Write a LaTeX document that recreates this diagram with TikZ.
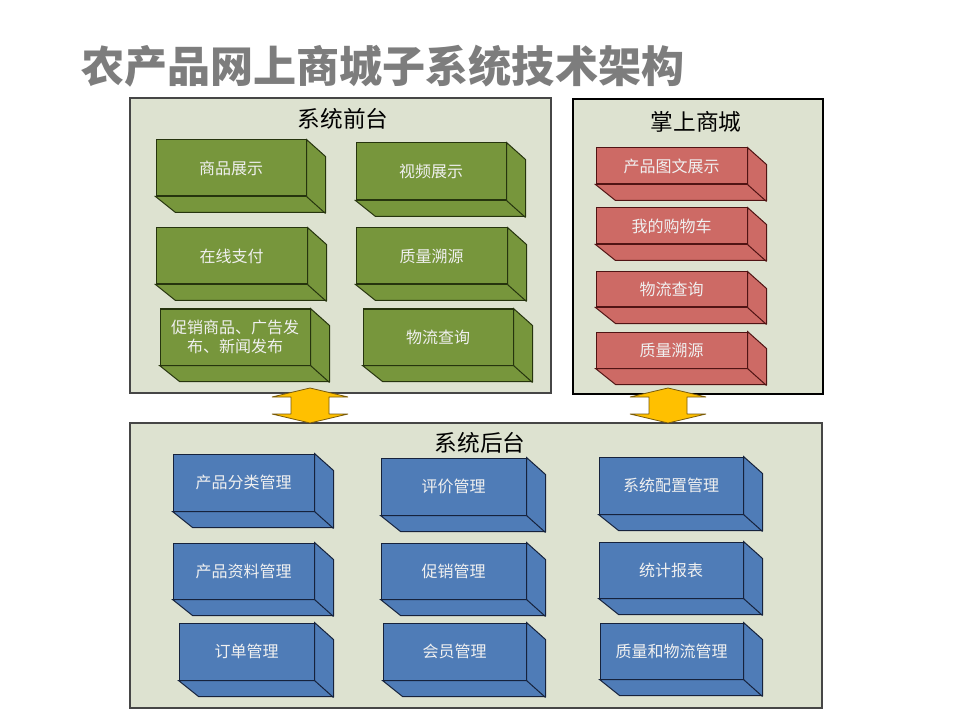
\documentclass[tikz,border=0pt]{standalone}
\usepackage{fontspec}
\usetikzlibrary{calc}
\newfontfamily\cjk{Noto Sans CJK SC}
\definecolor{gfill}{RGB}{119,150,60}
\definecolor{gline}{RGB}{38,52,14}
\definecolor{rfill}{RGB}{205,106,101}
\definecolor{rline}{RGB}{80,20,20}
\definecolor{bfill}{RGB}{79,124,183}
\definecolor{bline}{RGB}{22,34,60}
\definecolor{panelfill}{RGB}{221,226,208}
\definecolor{panelline}{RGB}{70,70,70}
\definecolor{titlegray}{RGB}{125,125,125}
\definecolor{arrowfill}{RGB}{255,192,0}
\definecolor{arrowline}{RGB}{120,90,10}
\tikzset{
  cubeface/.style={draw=#1line, fill=#1fill, line width=0.75pt, inner sep=0pt,
    align=center, text=white!94!black, font=\cjk\fontsize{12pt}{14.5pt}\selectfont},
  cubeside/.style={draw=#1line, fill=#1fill, line width=0.75pt, line join=miter},
  panel/.style={draw=panelline, fill=panelfill, line width=0.8pt},
  paneltitle/.style={font=\cjk\fontsize{17pt}{20pt}\selectfont, text=black, inner sep=0pt},
  bigtitle/.style={font=\cjk\bfseries\fontsize{32.3pt}{36pt}\selectfont, text=titlegray, inner sep=0pt},
  updown/.style={fill=arrowfill, draw=arrowline, line width=0.6pt, line join=bevel},
}
\newcommand\cubebox[7]{%
  \pgfmathsetmacro\cubew{(#4-#2)*0.75}%
  \pgfmathsetmacro\cubeh{(#5-#3)*0.75}%
  \node[cubeface=#6, minimum width=\cubew pt, minimum height=\cubeh pt] (#1) at ({(#2+#4)/2},{(#3+#5)/2}) {#7};
  \filldraw[cubeside=#6] (#1.north east) -- ++(19,17) -- ++(0,{#5-#3}) -- ++({-(#4-#2)},0) -- (#1.south west) -- (#1.south east) -- cycle;
  \draw[cubeside=#6] (#1.south east) -- ++(19,17);
}
\newcommand\yellowupdown[1]{%
  \filldraw[updown] ($(#1)+(0,-17.5)$) -- ($(#1)+(38,-8.5)$) -- ($(#1)+(19,-8.5)$)
    -- ($(#1)+(19,8.5)$) -- ($(#1)+(38,8.5)$) -- ($(#1)+(0,17.5)$)
    -- ($(#1)+(-38,8.5)$) -- ($(#1)+(-19,8.5)$) -- ($(#1)+(-19,-8.5)$)
    -- ($(#1)+(-38,-8.5)$) -- cycle;
}
\begin{document}
\begin{tikzpicture}[x=0.75pt, y=-0.75pt]
\fill[white] (0,0) rectangle (960,720);
\useasboundingbox (0,0) rectangle (960,720);

\node[bigtitle, anchor=west] (title) at (81,66) {农产品网上商城子系统技术架构};

% panels
\draw[panel] (130,98) rectangle (551,393);
\draw[panel, draw=black] (573,99) rectangle (823,394);
\draw[panel] (130,423) rectangle (822,708);

\node[paneltitle] (fronttitle) at (343,119) {系统前台};
\node[paneltitle] (mobiletitle) at (696,122) {掌上商城};
\node[paneltitle] (backtitle) at (480,443) {系统后台};

% front (green)
\cubebox{g1}{156}{140}{306}{196}{g}{商品展示}
\cubebox{g2}{356}{143}{506}{200}{g}{视频展示}
\cubebox{g3}{156}{228}{307}{284}{g}{在线支付}
\cubebox{g4}{356}{228}{507}{284}{g}{质量溯源}
\cubebox{g5}{160}{309}{310}{365}{g}{促销商品、广告发\\布、新闻发布}
\cubebox{g6}{363}{309}{513}{365}{g}{物流查询}

% mobile (red)
\cubebox{r1}{596}{148}{747}{184}{r}{产品图文展示}
\cubebox{r2}{596}{208}{747}{244}{r}{我的购物车}
\cubebox{r3}{596}{272}{747}{307}{r}{物流查询}
\cubebox{r4}{596}{332}{747}{368}{r}{质量溯源}

% back (blue)
\cubebox{b1}{173}{454}{314}{511}{b}{产品分类管理}
\cubebox{b2}{381}{458}{526}{515}{b}{评价管理}
\cubebox{b3}{599}{457}{743}{514}{b}{系统配置管理}
\cubebox{b4}{173}{543}{314}{599}{b}{产品资料管理}
\cubebox{b5}{381}{543}{526}{599}{b}{促销管理}
\cubebox{b6}{599}{542}{743}{598}{b}{统计报表}
\cubebox{b7}{179}{623}{314}{680}{b}{订单管理}
\cubebox{b8}{383}{623}{526}{680}{b}{会员管理}
\cubebox{b9}{600}{623}{743}{679}{b}{质量和物流管理}

% double arrows
\coordinate (a1) at (310,405.5);
\coordinate (a2) at (668,405.5);
\yellowupdown{a1}
\yellowupdown{a2}
\end{tikzpicture}
\end{document}
